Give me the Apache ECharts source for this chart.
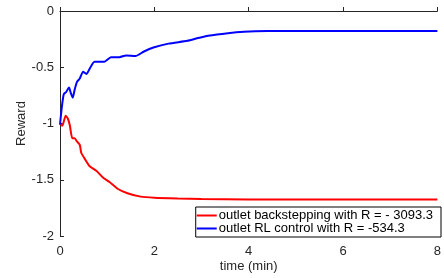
<!DOCTYPE html>
<html>
<head>
<meta charset="utf-8">
<script src="https://cdn.jsdelivr.net/npm/echarts@6/dist/echarts.min.js"></script>
<style>
  html, body { margin: 0; padding: 0; background: #fff; }
  #chart { width: 444px; height: 278px; }
</style>
</head>
<body>
<div id="chart"></div>
<script>
// time axis ticks
const xTicks = [0, 2, 4, 6, 8];
const yTicks = [-2, -1.5, -1, -0.5, 0];

// outlet backstepping (red)
const timeBack = [0, 0.05, 0.12, 0.17, 0.21, 0.26, 0.31, 0.36, 0.42, 0.45, 0.52, 0.63, 0.77, 0.91, 1.05, 1.22, 1.43, 1.71, 2.0, 2.5, 3, 4, 5, 6, 7, 8];
const rewardBack = [-1.0, -1.02, -0.93, -0.96, -1.02, -1.13, -1.13, -1.16, -1.19, -1.26, -1.31, -1.38, -1.42, -1.48, -1.52, -1.58, -1.62, -1.65, -1.66, -1.667, -1.672, -1.675, -1.675, -1.675, -1.675, -1.675];

// outlet RL control (blue)
const timeRL = [0, 0.04, 0.08, 0.13, 0.19, 0.23, 0.27, 0.31, 0.36, 0.42, 0.49, 0.56, 0.62, 0.73, 0.84, 0.94, 1.08, 1.26, 1.4, 1.6, 1.78, 1.98, 2.3, 2.7, 2.93, 3.14, 3.56, 3.9, 4.4, 5, 6, 7, 8];
const rewardRL = [-1.01, -0.85, -0.74, -0.72, -0.68, -0.73, -0.77, -0.70, -0.63, -0.60, -0.54, -0.56, -0.52, -0.45, -0.45, -0.45, -0.41, -0.41, -0.395, -0.40, -0.36, -0.325, -0.29, -0.265, -0.24, -0.22, -0.197, -0.185, -0.178, -0.177, -0.177, -0.177, -0.177];

const legendNames = ["outlet backstepping with R = - 3093.3", "outlet RL control with R = -534.3"];

function zip(xs, ys) {
  return xs.map((x, i) => [x, ys[i]]);
}

const chart = echarts.init(document.getElementById("chart"));
const axisColor = "#262626";
const font = "Liberation Sans, Arial, sans-serif";

chart.setOption({
  animation: false,
  textStyle: { fontFamily: font },
  grid: { left: 60, right: 2, top: 11, bottom: 41 },
  legend: {
    orient: "vertical",
    right: 3,
    bottom: 41,
    padding: [2, 8, 2, 1],
    itemGap: 0,
    itemWidth: 20,
    itemHeight: 2,
    backgroundColor: "#fff",
    borderColor: "#000",
    borderWidth: 1,
    borderRadius: 0,
    icon: "rect",
    textStyle: { fontSize: 13, color: "#000", fontFamily: font, padding: [0, 0, 0, -3] },
    data: legendNames
  },
  xAxis: {
    type: "value",
    min: xTicks[0],
    max: xTicks[xTicks.length - 1],
    interval: 2,
    name: "time (min)",
    nameLocation: "middle",
    nameGap: 24,
    nameMoveOverlap: false,
    nameTextStyle: { fontSize: 13, color: axisColor },
    axisLine: { lineStyle: { color: axisColor, width: 1 } },
    axisTick: { inside: true, length: 4, lineStyle: { color: axisColor } },
    axisLabel: { fontSize: 13, color: axisColor, margin: 9 },
    splitLine: { show: false }
  },
  yAxis: {
    type: "value",
    min: yTicks[0],
    max: yTicks[yTicks.length - 1],
    interval: 0.5,
    name: "Reward",
    nameLocation: "middle",
    nameGap: 32,
    nameMoveOverlap: false,
    nameTextStyle: { fontSize: 13, color: axisColor },
    axisLine: { show: true, lineStyle: { color: axisColor, width: 1 } },
    axisTick: { show: true, inside: true, length: 4, lineStyle: { color: axisColor } },
    axisLabel: { fontSize: 13, color: axisColor, margin: 6 },
    splitLine: { show: false }
  },
  series: [
    {
      name: legendNames[0],
      type: "line",
      data: zip(timeBack, rewardBack),
      smooth: 0.2,
      showSymbol: false,
      color: "#ff0000",
      lineStyle: { width: 2, color: "#ff0000" }
    },
    {
      name: legendNames[1],
      type: "line",
      data: zip(timeRL, rewardRL),
      smooth: 0.2,
      showSymbol: false,
      color: "#0000ff",
      lineStyle: { width: 2, color: "#0000ff" }
    }
  ]
});
</script>
</body>
</html>
